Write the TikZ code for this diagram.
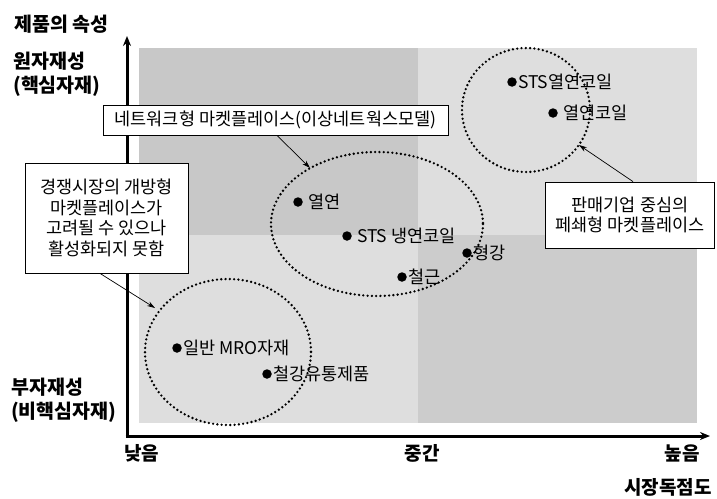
\documentclass[tikz,border=0pt]{standalone}
\usepackage{fontspec}
\setmainfont{Noto Sans CJK KR}
\usetikzlibrary{arrows.meta}
\definecolor{qdark}{RGB}{200,200,200}
\definecolor{qlight}{RGB}{222,222,222}
\definecolor{qdark2}{RGB}{204,204,204}
\tikzset{
  callout/.style={draw=black, line width=0.8pt, fill=white, font=\fontsize{17.5}{20.5}\selectfont, align=center, inner sep=3pt},
  ptlabel/.style={anchor=west, font=\fontsize{17.5}{19}\selectfont, inner sep=1pt},
  dotgroup/.style={line width=2.6pt, line cap=round, dash pattern=on 0pt off 4.3pt},
  axis/.style={line width=3pt, -{Stealth[length=10pt,width=8pt]}},
  pointer/.style={line width=0.7pt, -{Stealth[length=8pt,width=5pt]}},
  axlabel/.style={font=\fontsize{19.5}{24}\selectfont\bfseries, anchor=west, align=left, inner sep=0pt},
  ticklabel/.style={font=\fontsize{19}{20}\selectfont\bfseries, inner sep=0pt},
  dotmark/.style={fill=black, circle, inner sep=0pt, minimum size=9.5pt}
}
\begin{document}
\begin{tikzpicture}[x=1pt, y=-1pt]
\useasboundingbox (0,0) rectangle (717,498);
\fill[white] (0,0) rectangle (717,498);
% quadrants
\fill[qdark] (139,48) rectangle (418,235);
\fill[qlight] (418,48) rectangle (697,235);
\fill[qlight] (139,235) rectangle (418,423);
\fill[qdark2] (418,235) rectangle (697,423);
% axes
\coordinate (origin) at (127,436);
\coordinate (ytip) at (127,36);
\coordinate (xtip) at (710,436);
\draw[axis] (origin) -- (ytip);
\draw[axis] ([xshift=-1.5pt]origin) -- (xtip);
% axis labels
\node[axlabel] (ytitle) at (14,24) {제품의 속성};
\node[axlabel] (yhigh) at (13,74) {원자재성\\(핵심자재)};
\node[axlabel] (ylow) at (11,400) {부자재성\\(비핵심자재)};
\node[ticklabel, anchor=west] (xlow) at (124,453) {낮음};
\node[ticklabel] (xmid) at (422,453) {중간};
\node[ticklabel] (xhigh) at (682,453) {높음};
\node[ticklabel, anchor=east] (xtitle) at (712,487) {시장독점도};
% groups
\draw[dotgroup] (526,110) ellipse [x radius=64, y radius=62];
\draw[dotgroup] (377,224) ellipse [x radius=106, y radius=72];
\draw[dotgroup] (228,352) ellipse [x radius=83, y radius=73];
% points
\node[dotmark] (p1) at (512,82) {};
\node[ptlabel] at (p1.east) {STS열연코일};
\node[dotmark] (p2) at (553,113) {};
\node[ptlabel, xshift=4pt] at (p2.east) {열연코일};
\node[dotmark] (p3) at (298,202) {};
\node[ptlabel, xshift=4pt] at (p3.east) {열연};
\node[dotmark] (p4) at (347,236) {};
\node[ptlabel, xshift=4pt] at (p4.east) {STS 냉연코일};
\node[dotmark] (p5) at (467,253) {};
\node[ptlabel] at (p5.east) {형강};
\node[dotmark] (p6) at (402,277) {};
\node[ptlabel] at (p6.east) {철근};
\node[dotmark] (p7) at (177,348) {};
\node[ptlabel] at (p7.east) {일반 MRO자재};
\node[dotmark] (p8) at (267,374) {};
\node[ptlabel] at (p8.east) {철강유통제품};
% callouts
\node[callout, minimum width=345pt, minimum height=30pt] (c1) at (275.5,120) {네트워크형 마켓플레이스(이상네트웍스모델)};
\node[callout, minimum width=163pt, minimum height=110pt] (c2) at (106.5,218) {경쟁시장의 개방형\\마켓플레이스가\\고려될 수 있으나\\활성화되지 못함};
\node[callout, minimum width=169pt, minimum height=66pt] (c3) at (630,215) {판매기업 중심의\\페쇄형 마켓플레이스};
\coordinate (t1) at (310,168);
\coordinate (t2) at (155,308);
\coordinate (t3) at (579,145);
\draw[pointer] (c1.south -| 277,0) -- (t1);
\draw[pointer] (c2.south -| 100,0) -- (t2);
\draw[pointer] (c3.north -| 633,0) -- (t3);
\end{tikzpicture}
\end{document}
